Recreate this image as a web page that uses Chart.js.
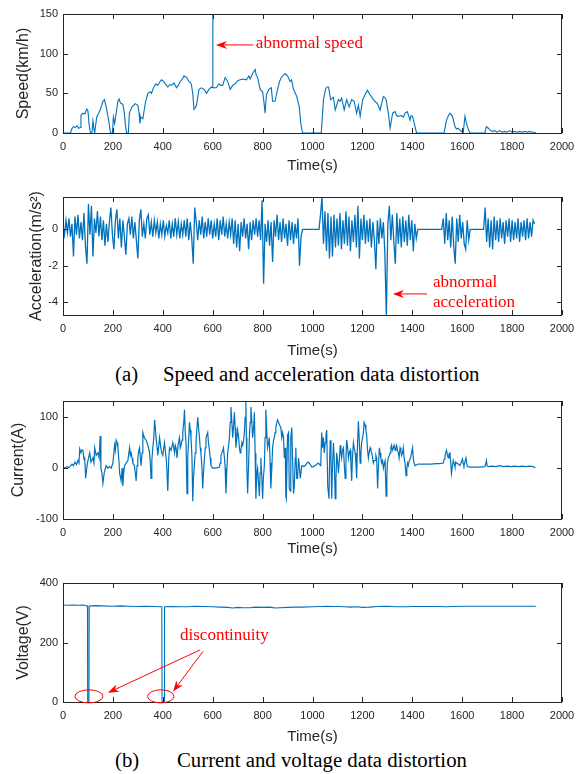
<!DOCTYPE html>
<html>
<head>
<meta charset="utf-8">
<script src="https://cdn.jsdelivr.net/npm/chart.js@4"></script>
<style>
  body { margin: 0; background: #fff; width: 587px; height: 774px; position: relative; overflow: hidden; }
  .panel { position: absolute; left: 0; width: 587px; }
  .cap { position: absolute; font-family: "Liberation Serif", "Times New Roman", serif; font-size: 20.8px; color: #000; line-height: 20px; white-space: nowrap; }
</style>
</head>
<body>
<div class="panel" style="top:0;height:175px"><canvas id="speed"></canvas></div>
<div class="panel" style="top:180px;height:180px"><canvas id="acc"></canvas></div>
<div class="cap" style="left:115px;top:364px">(a)</div>
<div class="cap" style="left:163px;top:364px">Speed and acceleration data distortion</div>
<div class="panel" style="top:385px;height:173px"><canvas id="current"></canvas></div>
<div class="panel" style="top:570px;height:176px"><canvas id="voltage"></canvas></div>
<div class="cap" style="left:115px;top:750px">(b)</div>
<div class="cap" style="left:177px;top:750px">Current and voltage data distortion</div>
<script>
// tick labels
const xTicks = [0, 200, 400, 600, 800, 1000, 1200, 1400, 1600, 1800, 2000];
const speedTicks = [0, 50, 100, 150];
const accTicks = [-4, -2, 0];
const currentTicks = [-100, 0, 100];
const voltageTicks = [0, 200, 400];

// speed [time s, km/h], spike at 600 s is the abnormal sample
const speedData = [
  [0,0],[30,0],[35,5],[42,8],[50,7],[57,9],[63,6],[70,7],[72,22],[80,25],[88,24],[95,30],[100,28],[104,12],[110,0],
  [116,0],[120,15],[124,5],[127,0],[135,20],[143,25],[150,30],[160,40],[166,42],[175,30],[185,12],[190,0],[198,0],
  [202,20],[207,12],[213,25],[220,40],[225,43],[230,38],[240,36],[246,25],[250,10],[255,0],[262,0],[266,25],[275,32],
  [283,35],[290,37],[300,35],[305,25],[308,12],[312,20],[320,18],[330,38],[340,50],[350,52],[355,50],[360,55],[368,60],
  [372,62],[380,60],[387,64],[395,67],[403,65],[410,62],[420,58],[428,61],[435,60],[445,63],[455,57],[462,60],[470,65],
  [478,68],[485,72],[490,71],[495,70],[505,65],[512,63],[515,60],[520,50],[525,30],[530,32],[535,35],[540,45],[545,55],
  [555,57],[565,55],[570,53],[575,50],[585,55],[595,58],[599,57],[600,150],[601,57],[605,57],[615,57],[625,62],[632,60],
  [640,60],[650,70],[660,65],[665,60],[670,55],[680,60],[690,62],[700,66],[710,67],[720,68],[735,67],[745,72],[750,68],
  [760,75],[770,80],[775,72],[780,70],[790,55],[800,52],[805,40],[810,25],[815,48],[825,55],[835,57],[840,40],[850,40],
  [860,55],[868,65],[875,70],[890,75],[900,72],[910,65],[916,67],[924,55],[937,46],[947,33],[953,12],[960,0],[1035,0],
  [1044,42],[1052,55],[1057,58],[1064,58],[1073,42],[1084,45],[1091,29],[1104,42],[1110,40],[1117,44],[1127,29],[1137,42],
  [1147,33],[1157,42],[1167,40],[1177,25],[1184,35],[1191,21],[1201,42],[1210,48],[1220,54],[1231,48],[1244,42],[1250,40],
  [1260,37],[1271,29],[1284,46],[1290,45],[1295,42],[1304,25],[1311,6],[1321,25],[1331,27],[1337,22],[1344,21],[1357,22],
  [1364,20],[1371,25],[1380,27],[1391,16],[1395,22],[1401,21],[1411,8],[1417,0],[1527,0],[1537,16],[1545,22],[1551,25],
  [1561,21],[1571,8],[1577,5],[1584,6],[1590,4],[1597,2],[1604,0],[1611,21],[1617,12],[1624,5],[1631,0],[1691,0],[1697,8],
  [1705,6],[1711,4],[1720,2],[1730,3],[1740,1],[1750,3],[1760,1],[1770,2],[1780,1],[1790,3],[1800,1],[1810,2],[1820,1],
  [1830,2],[1840,1],[1850,2],[1860,1],[1870,2],[1880,1],[1890,1],[1895,0]
];

// acceleration, one sample every accStep seconds from t = 0
const accStep = 6;
const accValues = [
  0.2,-0.3,0.5,-0.2,0.6,-0.4,0.3,-1.5,0.7,-0.3,
  0.8,-0.5,0.4,-0.6,0.9,-0.9,-1.9,1.4,-0.3,1.3,
  -1.5,0.6,-0.2,1.0,-0.4,0.7,-0.6,0.5,-0.9,0.3,
  -0.7,0.4,1.2,-0.3,-1.1,0.5,1.1,-0.5,0.6,-1.0,
  0.5,-0.4,-1.4,0.3,0.6,-0.3,0.7,-0.5,0.4,-0.6,
  -1.6,0.5,1.1,-0.4,0.3,-0.5,0.6,0.8,-0.3,0.4,
  -0.4,0.5,-0.2,0.4,-0.5,0.3,-0.3,0.5,-0.4,0.2,
  -0.2,0.5,-0.5,0.3,-0.4,0.6,-0.3,0.4,-0.5,0.3,
  -0.3,0.5,-0.4,0.6,-0.6,0.4,-0.5,-1.9,1.2,0.4,
  -0.6,0.5,-0.3,0.7,-0.5,0.4,-0.4,0.6,-0.3,0.5,
  -0.5,0.3,-0.4,0.6,-0.6,0.5,-0.3,0.7,-0.4,0.3,
  -0.5,0.4,-0.3,0.6,-0.8,0.5,-1.0,0.3,-1.2,0.4,
  -0.4,0.6,-0.5,0.3,-1.1,0.4,-0.6,0.5,-0.3,0.6,
  -0.4,0.5,-0.6,1.6,-3.0,0.3,-0.7,0.5,-0.9,0.4,
  -1.8,0.5,-0.4,0.8,-0.6,0.4,-0.7,0.6,-0.5,0.3,
  -0.9,0.5,-0.6,0.4,-0.8,0.3,-0.5,0.6,-2.0,-0.4,
  0,0,0,0,0,0,0,0,0,0,
  0,0,0.8,1.8,-0.8,1.0,-1.2,0.9,-1.6,0.7,
  -1.5,0.8,-1.0,0.6,-0.9,0.9,-1.1,0.5,-0.8,1.0,
  -0.9,0.7,-1.2,0.5,-0.7,0.8,-1.0,1.3,-1.6,0.6,
  -0.6,0.8,-0.8,0.5,-0.7,0.6,-1.0,0.4,-0.6,-2.2,
  0.5,-0.8,0.6,-0.5,0.4,-1.3,-4.8,0.3,1.3,-0.6,
  0.8,-0.7,-1.9,0.9,-0.8,0.6,-1.0,0.7,-0.7,0.5,
  -0.9,0.8,-0.6,0.5,-1.2,0.3,-0.5,0,0,0,
  0,0,0,0,0,0,0,0,0,0,
  0,0,0,0,0.6,-0.8,0.9,-0.6,0.5,-1.0,
  0.7,-0.9,-1.9,0.6,-0.7,0.8,-0.5,0.4,-0.8,-1.1,
  0.5,-0.6,0,0,0,0,0,0,0,0,
  0,0,1.2,-0.7,0.6,-1.0,0.5,-1.1,0.7,-0.6,
  0.5,-0.7,0.6,-0.5,0.4,-0.8,0.5,-0.4,0.6,-0.7,
  0.5,-0.6,0.4,-0.5,0.6,-0.7,0.4,-0.4,0.5,-0.6,
  0.6,-0.5,0.4,-0.4,0.5,0.3
];

// current [time s, A]
const currentData = [
  [0,2],[8,0],[15,3],[22,1],[30,4],[36,8],[42,5],[48,12],[54,7],[60,15],[64,10],[67,38],[72,30],[76,36],[80,35],[84,18],
  [87,20],[91,-20],[95,0],[100,15],[107,30],[112,12],[120,20],[124,10],[127,40],[133,25],[140,30],[145,20],[149,63],[152,0],
  [156,-10],[160,-30],[165,-10],[170,0],[173,5],[180,0],[187,3],[193,0],[200,10],[204,30],[207,45],[210,35],[213,55],[217,50],
  [220,40],[224,15],[227,-10],[233,-25],[237,0],[240,-35],[244,-5],[247,5],[253,10],[260,15],[264,30],[267,40],[270,25],
  [273,30],[277,20],[280,10],[286,5],[290,-10],[293,-25],[297,5],[300,20],[304,35],[307,40],[310,20],[313,5],[317,30],
  [320,70],[326,60],[333,55],[340,45],[345,35],[347,30],[350,10],[353,-20],[356,15],[360,40],[364,60],[367,95],[370,80],
  [373,60],[377,40],[380,25],[384,45],[387,60],[392,40],[396,30],[400,25],[404,40],[407,50],[411,30],[415,10],[420,-45],
  [424,20],[427,40],[433,35],[440,50],[444,40],[447,30],[450,45],[453,40],[457,20],[461,45],[467,60],[470,40],[473,45],
  [477,55],[480,70],[484,90],[487,115],[490,70],[493,50],[497,-50],[500,20],[504,60],[507,90],[510,75],[513,60],[517,20],
  [520,-65],[523,-20],[527,10],[530,30],[533,50],[537,80],[540,100],[544,75],[547,60],[550,40],[553,30],[557,0],[560,-40],
  [563,-10],[567,20],[570,40],[573,60],[577,65],[580,70],[583,50],[587,35],[590,20],[593,5],[600,0],[613,0],[627,2],
  [630,10],[633,25],[637,30],[640,35],[643,40],[647,20],[650,0],[653,-50],[657,0],[660,30],[664,45],[667,60],[670,90],
  [673,120],[677,90],[680,60],[684,85],[687,110],[690,80],[693,40],[697,60],[700,75],[704,60],[707,40],[710,30],[713,35],
  [717,50],[720,45],[724,55],[727,70],[730,100],[733,130],[735,60],[737,0],[740,-50],[744,10],[747,60],[750,90],[753,120],
  [757,90],[760,60],[764,80],[767,110],[770,30],[773,-60],[777,-10],[780,0],[784,-30],[787,-55],[790,-10],[793,20],
  [797,-20],[800,-60],[803,-20],[807,5],[810,60],[813,115],[817,70],[820,40],[824,50],[827,60],[830,10],[833,-40],[837,0],
  [840,40],[844,55],[847,60],[850,70],[853,80],[857,90],[860,95],[864,90],[868,85],[873,80],[877,60],[880,70],[884,60],
  [887,20],[891,40],[893,-55],[895,-60],[900,65],[904,70],[907,-40],[911,-45],[913,60],[917,80],[920,20],[924,-50],
  [927,-35],[931,20],[933,40],[937,-20],[940,-20],[944,20],[947,5],[951,-20],[957,5],[965,3],[971,5],[978,10],[984,12],
  [990,8],[997,2],[1004,3],[1011,5],[1018,8],[1024,10],[1030,6],[1033,5],[1037,70],[1040,40],[1044,60],[1047,30],[1051,50],
  [1054,65],[1057,75],[1061,-35],[1066,-60],[1068,0],[1071,55],[1074,20],[1077,-60],[1080,0],[1084,50],[1087,20],[1091,-60],
  [1094,-20],[1097,30],[1101,10],[1104,-10],[1108,20],[1111,45],[1114,30],[1117,20],[1120,35],[1124,40],[1127,10],[1131,-20],
  [1134,20],[1137,55],[1141,40],[1144,20],[1147,30],[1151,35],[1154,10],[1157,-25],[1160,20],[1164,50],[1167,40],[1171,30],
  [1174,10],[1177,-20],[1180,40],[1184,92],[1187,60],[1191,10],[1194,30],[1197,50],[1201,60],[1204,70],[1207,90],[1211,85],
  [1214,75],[1217,65],[1220,40],[1224,20],[1227,30],[1231,40],[1234,35],[1237,30],[1241,20],[1244,10],[1247,15],[1251,15],
  [1254,25],[1257,20],[1261,-40],[1264,0],[1268,40],[1271,30],[1274,20],[1277,10],[1281,15],[1284,0],[1288,10],[1291,15],
  [1295,-55],[1298,-20],[1300,10],[1304,20],[1308,25],[1311,30],[1314,40],[1317,45],[1320,35],[1324,40],[1327,45],[1331,35],
  [1334,40],[1337,45],[1341,35],[1344,30],[1347,20],[1351,40],[1354,35],[1357,25],[1361,30],[1364,40],[1367,20],[1371,10],
  [1375,-15],[1378,0],[1381,10],[1384,5],[1388,15],[1393,20],[1397,30],[1401,40],[1404,20],[1407,10],[1411,5],[1424,8],
  [1444,8],[1471,8],[1497,9],[1510,9],[1524,10],[1528,18],[1531,25],[1534,30],[1537,35],[1541,25],[1544,20],[1547,28],
  [1551,30],[1554,10],[1557,-10],[1561,5],[1564,15],[1568,8],[1571,2],[1574,12],[1577,10],[1584,8],[1591,5],[1597,12],
  [1601,18],[1604,10],[1607,5],[1611,12],[1615,20],[1618,10],[1621,3],[1631,2],[1650,2],[1671,2],[1691,3],[1695,10],
  [1697,15],[1700,5],[1704,3],[1720,4],[1735,3],[1750,5],[1765,3],[1780,4],[1795,3],[1810,4],[1825,3],[1840,4],[1855,3],
  [1870,4],[1885,3],[1893,1]
];

// voltage [time s, V], drops to 0 are the discontinuities
const voltageData = [
  [0,326],[20,325],[40,326],[60,325],[80,326],[98,323],[99,0],[104,0],[105,323],[130,324],[160,323],[200,322],[230,323],
  [260,322],[300,321],[330,322],[360,321],[396,320],[397,0],[406,0],[407,320],[440,321],[470,320],[500,320],[530,322],
  [560,321],[600,320],[630,319],[660,318],[680,316],[700,318],[720,317],[750,317],[770,319],[800,318],[830,319],[850,316],
  [870,317],[900,318],[930,319],[960,319],[1000,320],[1030,321],[1060,322],[1080,321],[1100,321],[1130,320],[1150,319],
  [1180,320],[1200,318],[1230,319],[1260,321],[1300,322],[1330,320],[1350,320],[1380,320],[1400,321],[1450,321],[1500,321],
  [1540,320],[1560,321],[1600,322],[1650,322],[1700,322],[1750,322],[1800,322],[1850,322],[1895,322]
];

const BLUE = '#0072BD';
const INK = '#262626';
const RED = '#ff0000';

function pairsToXY(pairs) {
  return pairs.map(p => ({x: p[0], y: p[1]}));
}

function arrow(ctx, x1, y1, x2, y2) {
  const a = Math.atan2(y2 - y1, x2 - x1);
  const L = 11, W = 4;
  ctx.beginPath();
  ctx.moveTo(x1, y1);
  ctx.lineTo(x2 - Math.cos(a) * L * 0.7, y2 - Math.sin(a) * L * 0.7);
  ctx.stroke();
  ctx.save();
  ctx.translate(x2, y2);
  ctx.rotate(a);
  ctx.beginPath();
  ctx.moveTo(0, 0);
  ctx.lineTo(-L, -W);
  ctx.lineTo(-L * 0.7, 0);
  ctx.lineTo(-L, W);
  ctx.closePath();
  ctx.fill();
  ctx.restore();
}

// box round the plot, inward ticks, red notes
const boxPlugin = {
  id: 'box',
  afterDatasetsDraw(chart, args, opts) {
    const {ctx, chartArea: a, scales: {x, y}} = chart;
    ctx.save();
    ctx.strokeStyle = INK;
    ctx.lineWidth = 1;
    ctx.strokeRect(Math.round(a.left) + 0.5, Math.round(a.top) + 0.5, Math.round(a.right - a.left) - 1, Math.round(a.bottom - a.top));
    ctx.beginPath();
    xTicks.forEach(v => {
      const px = Math.round(x.getPixelForValue(v)) + 0.5;
      ctx.moveTo(px, a.bottom); ctx.lineTo(px, a.bottom - 5);
      ctx.moveTo(px, a.top); ctx.lineTo(px, a.top + 5);
    });
    opts.yTicks.forEach(v => {
      const py = Math.round(y.getPixelForValue(v)) + 0.5;
      ctx.moveTo(a.left, py); ctx.lineTo(a.left + 5, py);
      ctx.moveTo(a.right, py); ctx.lineTo(a.right - 5, py);
    });
    ctx.stroke();

    const n = opts.notes || {};
    ctx.strokeStyle = RED;
    ctx.fillStyle = RED;
    ctx.lineWidth = 1;
    ctx.font = '17px "Liberation Serif", "Times New Roman", serif';
    ctx.textAlign = 'left';
    ctx.textBaseline = 'middle';
    (n.texts || []).forEach(t => ctx.fillText(t.text, x.getPixelForValue(t.x), y.getPixelForValue(t.y)));
    (n.arrows || []).forEach(r => arrow(ctx,
      x.getPixelForValue(r[0]), y.getPixelForValue(r[1]),
      x.getPixelForValue(r[2]), y.getPixelForValue(r[3])));
    (n.ellipses || []).forEach(e => {
      const cx = x.getPixelForValue(e[0]), cy = y.getPixelForValue(e[1]);
      const rx = x.getPixelForValue(e[0] + e[2]) - cx;
      const ry = cy - y.getPixelForValue(e[1] + e[3]);
      ctx.beginPath();
      ctx.ellipse(cx, cy, rx, ry, 0, 0, Math.PI * 2);
      ctx.stroke();
    });
    ctx.restore();
  }
};

function makePanel(id, points, cfg) {
  return new Chart(document.getElementById(id), {
    type: 'line',
    data: {
      datasets: [{
        data: points,
        borderColor: BLUE,
        borderWidth: cfg.lineWidth || 1.1,
        pointRadius: 0,
        tension: 0,
        fill: false
      }]
    },
    options: {
      responsive: true,
      maintainAspectRatio: false,
      animation: false,
      layout: {padding: {top: cfg.padTop, right: 25, left: 0, bottom: 0}},
      plugins: {
        legend: {display: false},
        tooltip: {enabled: false},
        box: {yTicks: cfg.yTicks, notes: cfg.notes}
      },
      scales: {
        x: {
          type: 'linear',
          min: 0,
          max: 2000,
          afterBuildTicks: s => { s.ticks = xTicks.map(v => ({value: v})); },
          afterFit: s => { s.height = cfg.xHeight; },
          grid: {display: false, drawTicks: false},
          border: {display: false},
          ticks: {padding: 7, color: INK, font: {family: 'Liberation Sans', size: 11}, maxRotation: 0, autoSkip: false,
                  callback: v => String(v)},
          title: {display: true, text: 'Time(s)', color: INK, font: {family: 'Liberation Sans', size: 15}, padding: 0}
        },
        y: {
          min: cfg.yMin,
          max: cfg.yMax,
          afterBuildTicks: s => { s.ticks = cfg.yTicks.map(v => ({value: v})); },
          afterFit: s => { s.width = 63; },
          grid: {display: false, drawTicks: false},
          border: {display: false},
          ticks: {padding: 5, color: INK, font: {family: 'Liberation Sans', size: 11}, callback: v => String(v)},
          title: {display: true, text: cfg.yTitle, color: INK, font: {family: 'Liberation Sans', size: 16}, padding: {top: cfg.titlePad, bottom: 0}}
        }
      }
    },
    plugins: [boxPlugin]
  });
}

makePanel('speed', pairsToXY(speedData), {
  padTop: 14, xHeight: 42, yMin: 0, yMax: 150, yTicks: speedTicks, yTitle: 'Speed(km/h)', titlePad: 14,
  notes: {
    texts: [{text: 'abnormal speed', x: 773, y: 113}],
    arrows: [[762, 111, 613, 111]]
  }
});

makePanel('acc', accValues.map((v, i) => ({x: i * accStep, y: v})), {
  padTop: 17, xHeight: 45, yMin: -4.72, yMax: 1.78, yTicks: accTicks, yTitle: 'Acceleration(m/s²)', titlePad: 27,
  lineWidth: 1.3,
  notes: {
    texts: [{text: 'abnormal', x: 1483, y: -2.95}, {text: 'acceleration', x: 1483, y: -4.05}],
    arrows: [[1459, -3.56, 1322, -3.56]]
  }
});

makePanel('current', pairsToXY(currentData), {
  padTop: 16, xHeight: 39, yMin: -100, yMax: 132, yTicks: currentTicks, yTitle: 'Current(A)', titlePad: 9,
  lineWidth: 1.2
});

makePanel('voltage', pairsToXY(voltageData), {
  padTop: 13, xHeight: 44, yMin: 0, yMax: 400, yTicks: voltageTicks, yTitle: 'Voltage(V)', titlePad: 14,
  notes: {
    texts: [{text: 'discontinuity', x: 469, y: 222}],
    arrows: [[549, 175, 180, 31], [561, 170, 441, 35]],
    ellipses: [[104, 19, 56, 22], [392, 19, 53, 22]]
  }
});
</script>
</body>
</html>
